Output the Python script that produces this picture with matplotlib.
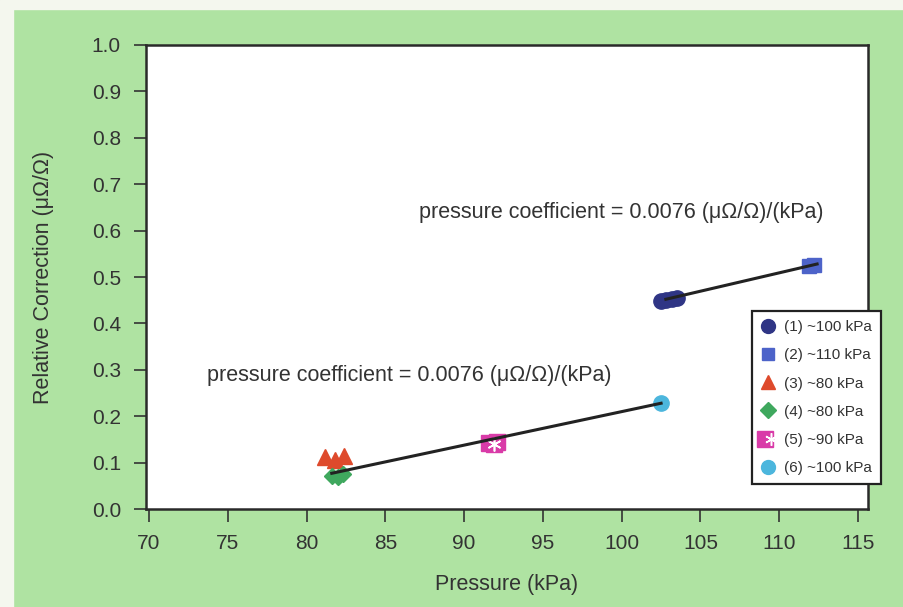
import matplotlib
matplotlib.use("Agg")
import matplotlib.pyplot as plt
from matplotlib.lines import Line2D
from matplotlib.legend_handler import HandlerTuple
from matplotlib.patches import Rectangle

plt.rcParams['font.family'] = ['Liberation Sans', 'DejaVu Sans']

# ---- data ----
s1_x = [102.5, 102.8, 103.2, 103.5]
s1_y = [0.448, 0.450, 0.452, 0.455]
s2_x = [111.9, 112.2]
s2_y = [0.524, 0.526]
s3_x = [81.2, 81.8, 82.4]
s3_y = [0.112, 0.106, 0.114]
s4_x = [81.6, 82.0, 82.3]
s4_y = [0.072, 0.070, 0.075]
s5_x = [91.6, 91.9, 92.1]
s5_y = [0.142, 0.140, 0.144]
s6_x = [102.5]
s6_y = [0.228]

fit_low_x = [81.6, 102.5]
fit_low_y = [0.077, 0.228]
fit_high_x = [102.8, 112.4]
fit_high_y = [0.452, 0.528]

labels = ['(1) ~100 kPa', '(2) ~110 kPa', '(3) ~80 kPa', '(4) ~80 kPa', '(5) ~90 kPa', '(6) ~100 kPa']
annot_text = 'pressure coefficient = 0.0076 (\u03bc\u03a9/\u03a9)/(kPa)'
x_ticks = [70, 75, 80, 85, 90, 95, 100, 105, 110, 115]
y_ticks = [0.0, 0.1, 0.2, 0.3, 0.4, 0.5, 0.6, 0.7, 0.8, 0.9, 1.0]

# ---- colors ----
bg = '#afe3a2'
c1 = '#2f3585'
c2 = '#4d63c9'
c3 = '#de4a2c'
c4 = '#3fa85e'
c5 = '#d93ba8'
c6 = '#4cb6dd'
txt = '#333333'

fig = plt.figure(figsize=(9.04, 6.07), dpi=100)
fig.patch.set_facecolor(bg)
fig.patches.append(Rectangle((0, 0.985), 1, 0.015, transform=fig.transFigure, color='#f4f7ee', zorder=0))
fig.patches.append(Rectangle((0, 0), 0.014, 1, transform=fig.transFigure, color='#f4f7ee', zorder=0))

ax = fig.add_axes([146 / 904, 0.1614, 722 / 904, 0.7645])
ax.set_facecolor('white')

ax.plot(fit_low_x, fit_low_y, color='#222222', lw=2.2, zorder=3)
ax.plot(fit_high_x, fit_high_y, color='#222222', lw=2.2, zorder=3)

ms = 11
ax.plot(s1_x, s1_y, 'o', color=c1, ms=ms, ls='none', zorder=2)
ax.plot(s2_x, s2_y, 's', color=c2, ms=ms - 1, ls='none', zorder=2)
ax.plot(s3_x, s3_y, '^', color=c3, ms=ms, ls='none', zorder=2)
ax.plot(s4_x, s4_y, 'D', color=c4, ms=ms - 3, ls='none', zorder=2)
ax.plot(s5_x, s5_y, 's', color=c5, ms=ms + 1, ls='none', zorder=2)
ax.plot(s5_x[1:2], s5_y[1:2], marker=(6, 2, 0), color='white', ms=ms - 1, mew=1.2, ls='none', zorder=2)
ax.plot(s6_x, s6_y, 'o', color=c6, ms=ms, ls='none', zorder=2)

ax.text(100.0, 0.64, annot_text, fontsize=15.5, ha='center', va='center', color=txt)
ax.text(86.5, 0.287, annot_text, fontsize=15.5, ha='center', va='center', color=txt)

ax.set_xlim(69.81, 115.63)
ax.set_ylim(0, 1.0)
ax.set_xticks(x_ticks)
ax.set_yticks(y_ticks)
ax.set_xticklabels([str(v) for v in x_ticks])
ax.set_yticklabels([f'{v:.1f}' for v in y_ticks])
ax.tick_params(axis='both', direction='out', length=9, width=1.2, colors=txt, labelsize=15, pad=9)
for sp in ax.spines.values():
    sp.set_linewidth(1.8)
    sp.set_color('#2a2a2a')

ax.set_xlabel('Pressure (kPa)', fontsize=15.5, color=txt, labelpad=15)
ax.set_ylabel('Relative Correction (\u03bc\u03a9/\u03a9)', fontsize=15.5, color=txt, labelpad=27)

h1 = Line2D([], [], marker='o', color=c1, ls='none', ms=10)
h2 = Line2D([], [], marker='s', color=c2, ls='none', ms=9)
h3 = Line2D([], [], marker='^', color=c3, ls='none', ms=10)
h4 = Line2D([], [], marker='D', color=c4, ls='none', ms=8)
h5a = Line2D([], [], marker='s', color=c5, ls='none', ms=11)
h5b = Line2D([], [], marker=(6, 2, 0), color='white', ls='none', ms=9, mew=1.1)
h6 = Line2D([], [], marker='o', color=c6, ls='none', ms=10)
leg = fig.legend([h1, h2, h3, h4, (h5a, h5b), h6], labels,
                 handler_map={tuple: HandlerTuple(ndivide=None, pad=0)},
                 loc='upper left', bbox_to_anchor=(752 / 904, 1 - 311 / 607),
                 fontsize=11, frameon=True, fancybox=False, edgecolor='#222222',
                 handlelength=0.9, handletextpad=0.6, labelspacing=0.93,
                 borderpad=0.6, borderaxespad=0, framealpha=1)
leg.get_frame().set_linewidth(1.6)
for t in leg.get_texts():
    t.set_color(txt)

fig.savefig('out.png', dpi=100, facecolor=fig.get_facecolor())
